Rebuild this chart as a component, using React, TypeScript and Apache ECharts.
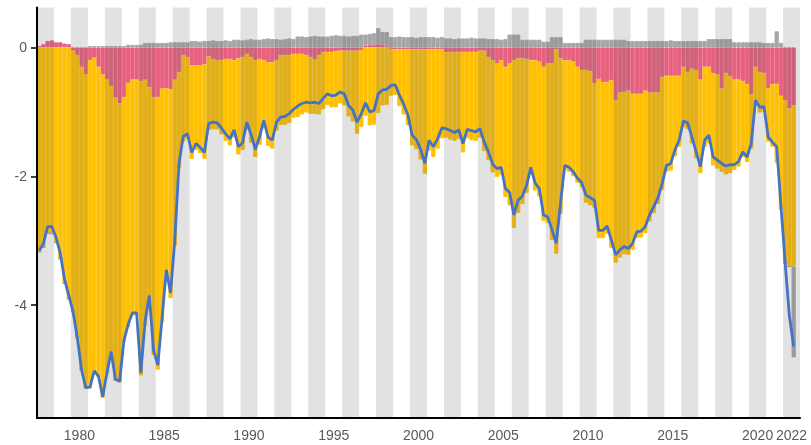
import { useEffect, useRef } from 'react';
import * as echarts from 'echarts';

// Calendar years on the horizontal axis (one shaded band per even year)
const years = [
  '1978', '1979', '1980', '1981', '1982', '1983', '1984', '1985', '1986', '1987',
  '1988', '1989', '1990', '1991', '1992', '1993', '1994', '1995', '1996', '1997',
  '1998', '1999', '2000', '2001', '2002', '2003', '2004', '2005', '2006', '2007',
  '2008', '2009', '2010', '2011', '2012', '2013', '2014', '2015', '2016', '2017',
  '2018', '2019', '2020', '2021', '2022',
];
const quarterNames = ['Q1', 'Q2', 'Q3', 'Q4'];
const yearTickLabels = ['1980', '1985', '1990', '1995', '2000', '2005', '2010', '2015', '2020', '2022'];
const valueTicks = [-4, -2, 0];

// Net balance (blue line), quarterly from 1978 Q1 to 2022 Q3
const netBalance = [
  -3.15, -3.05, -2.78, -2.78, -2.95, -3.20, -3.60, -3.85, -4.10, -4.50, -5.00, -5.28,
  -5.27, -5.02, -5.10, -5.42, -5.05, -4.72, -5.15, -5.18, -4.55, -4.30, -4.12, -4.12,
  -5.05, -4.25, -3.85, -4.70, -4.93, -4.20, -3.45, -3.81, -3.00, -1.80, -1.38, -1.34,
  -1.63, -1.49, -1.55, -1.63, -1.18, -1.16, -1.17, -1.25, -1.34, -1.42, -1.28, -1.54,
  -1.48, -1.16, -1.35, -1.58, -1.39, -1.13, -1.39, -1.44, -1.16, -1.08, -1.07, -1.03,
  -0.96, -0.91, -0.87, -0.85, -0.86, -0.85, -0.87, -0.79, -0.72, -0.75, -0.74, -0.69,
  -0.72, -0.90, -0.97, -1.16, -1.03, -0.86, -1.00, -0.98, -0.72, -0.66, -0.65, -0.59,
  -0.58, -0.74, -0.88, -1.05, -1.36, -1.43, -1.58, -1.80, -1.44, -1.54, -1.42, -1.25,
  -1.26, -1.29, -1.32, -1.28, -1.49, -1.27, -1.29, -1.31, -1.26, -1.47, -1.62, -1.81,
  -1.88, -1.86, -2.19, -2.25, -2.60, -2.37, -2.31, -2.14, -1.86, -2.10, -2.19, -2.60,
  -2.63, -2.83, -3.04, -2.42, -1.83, -1.86, -1.93, -2.03, -2.10, -2.29, -2.33, -2.37,
  -2.84, -2.84, -2.77, -2.99, -3.22, -3.14, -3.09, -3.12, -3.04, -2.86, -2.85, -2.78,
  -2.60, -2.47, -2.33, -2.11, -1.83, -1.80, -1.59, -1.44, -1.14, -1.17, -1.39, -1.62,
  -1.85, -1.44, -1.36, -1.70, -1.75, -1.80, -1.84, -1.82, -1.82, -1.77, -1.62, -1.70,
  -1.49, -0.82, -0.93, -0.92, -1.39, -1.47, -1.54, -2.45, -3.35, -4.17, -4.64,
];

// Pink component
const pinkPart = [
  0.02, 0.05, 0.10, 0.11, 0.08, 0.08, 0.06, 0.05, -0.05, -0.12, -0.30, -0.42,
  -0.20, -0.16, -0.30, -0.42, -0.50, -0.60, -0.78, -0.87, -0.77, -0.55, -0.50, -0.50,
  -0.52, -0.50, -0.62, -0.77, -0.77, -0.64, -0.63, -0.65, -0.50, -0.38, -0.12, -0.15,
  -0.28, -0.28, -0.28, -0.26, -0.14, -0.18, -0.20, -0.20, -0.18, -0.18, -0.20, -0.17,
  -0.15, -0.10, -0.15, -0.20, -0.18, -0.20, -0.23, -0.23, -0.20, -0.12, -0.12, -0.12,
  -0.10, -0.10, -0.10, -0.12, -0.15, -0.19, -0.12, -0.07, -0.07, -0.07, -0.06, -0.05,
  -0.05, -0.05, -0.05, -0.05, -0.04, 0.03, 0.04, 0.04, 0.05, 0.04, 0.02, -0.02,
  -0.03, -0.03, -0.03, -0.03, -0.03, -0.03, -0.03, -0.03, -0.03, -0.03, -0.03, -0.03,
  -0.07, -0.07, -0.07, -0.07, -0.07, -0.07, -0.07, -0.07, -0.05, -0.05, -0.15, -0.20,
  -0.25, -0.20, -0.30, -0.25, -0.20, -0.17, -0.17, -0.18, -0.20, -0.20, -0.22, -0.30,
  -0.25, -0.25, -0.03, -0.17, -0.20, -0.20, -0.22, -0.30, -0.35, -0.35, -0.37, -0.56,
  -0.49, -0.54, -0.54, -0.51, -0.82, -0.70, -0.69, -0.67, -0.72, -0.72, -0.72, -0.67,
  -0.70, -0.70, -0.70, -0.46, -0.44, -0.44, -0.44, -0.44, -0.30, -0.38, -0.33, -0.35,
  -0.50, -0.30, -0.30, -0.40, -0.42, -0.64, -0.40, -0.45, -0.50, -0.50, -0.52, -0.57,
  -0.73, -0.30, -0.38, -0.40, -0.63, -0.57, -0.57, -0.75, -0.82, -0.95, -0.90,
];

// Yellow component
const yellowPart = [
  -3.17, -3.10, -2.88, -2.89, -3.03, -3.28, -3.66, -3.90, -4.05, -4.38, -4.70, -4.86,
  -5.09, -4.88, -4.82, -5.02, -4.57, -4.14, -4.39, -4.33, -3.80, -3.79, -3.66, -3.66,
  -4.57, -3.82, -3.30, -4.00, -4.23, -3.63, -2.89, -3.24, -2.58, -1.50, -1.34, -1.27,
  -1.45, -1.31, -1.36, -1.47, -1.14, -1.09, -1.07, -1.15, -1.27, -1.34, -1.20, -1.49,
  -1.44, -1.18, -1.33, -1.50, -1.33, -1.06, -1.30, -1.34, -1.09, -1.08, -1.08, -1.05,
  -0.99, -0.98, -0.94, -0.89, -0.88, -0.84, -0.92, -0.89, -0.82, -0.86, -0.87, -0.82,
  -0.85, -1.02, -1.10, -1.29, -1.19, -1.06, -1.21, -1.20, -1.02, -0.90, -0.89, -0.73,
  -0.71, -0.88, -1.01, -1.18, -1.49, -1.55, -1.71, -1.93, -1.57, -1.67, -1.54, -1.38,
  -1.33, -1.36, -1.38, -1.35, -1.56, -1.34, -1.37, -1.38, -1.35, -1.56, -1.60, -1.74,
  -1.76, -1.78, -2.02, -2.20, -2.60, -2.40, -2.26, -2.08, -1.78, -2.02, -2.09, -2.39,
  -2.47, -2.74, -3.17, -2.41, -1.70, -1.73, -1.78, -1.80, -1.82, -2.06, -2.08, -1.93,
  -2.47, -2.42, -2.35, -2.60, -2.52, -2.56, -2.52, -2.55, -2.42, -2.24, -2.23, -2.21,
  -2.00, -1.87, -1.73, -1.75, -1.49, -1.47, -1.25, -1.10, -0.94, -0.89, -1.16, -1.37,
  -1.45, -1.24, -1.19, -1.43, -1.46, -1.29, -1.57, -1.50, -1.40, -1.35, -1.18, -1.21,
  -0.84, -0.60, -0.63, -0.59, -0.83, -0.97, -1.22, -1.77, -2.53, -2.45, -2.50,
];

// Grey component (mostly small and positive)
const greyPart = [
  0, 0, 0, 0, 0, 0, 0, 0, 0, 0, 0, 0,
  0.02, 0.02, 0.02, 0.02, 0.02, 0.02, 0.02, 0.02, 0.02, 0.04, 0.04, 0.04,
  0.04, 0.07, 0.07, 0.07, 0.07, 0.07, 0.07, 0.08, 0.08, 0.08, 0.08, 0.08,
  0.10, 0.10, 0.09, 0.10, 0.10, 0.11, 0.10, 0.10, 0.11, 0.10, 0.12, 0.12,
  0.11, 0.12, 0.13, 0.12, 0.12, 0.13, 0.14, 0.13, 0.13, 0.12, 0.13, 0.14,
  0.13, 0.17, 0.17, 0.16, 0.17, 0.18, 0.17, 0.17, 0.17, 0.18, 0.19, 0.18,
  0.18, 0.17, 0.18, 0.18, 0.20, 0.17, 0.17, 0.18, 0.25, 0.20, 0.22, 0.16,
  0.16, 0.17, 0.16, 0.16, 0.16, 0.15, 0.16, 0.16, 0.16, 0.16, 0.15, 0.16,
  0.14, 0.14, 0.13, 0.14, 0.14, 0.14, 0.15, 0.14, 0.14, 0.14, 0.13, 0.13,
  0.13, 0.12, 0.13, 0.20, 0.20, 0.20, 0.12, 0.12, 0.12, 0.12, 0.12, 0.09,
  0.09, 0.16, 0.16, 0.16, 0.07, 0.07, 0.07, 0.07, 0.07, 0.12, 0.12, 0.12,
  0.12, 0.12, 0.12, 0.12, 0.12, 0.12, 0.12, 0.10, 0.10, 0.10, 0.10, 0.10,
  0.10, 0.10, 0.10, 0.10, 0.10, 0.11, 0.10, 0.10, 0.10, 0.10, 0.10, 0.10,
  0.10, 0.10, 0.13, 0.13, 0.13, 0.13, 0.13, 0.13, 0.08, 0.08, 0.08, 0.08,
  0.08, 0.08, 0.08, 0.07, 0.07, 0.07, 0.25, 0.07, 0, 0, -1.41,
];

const FONT = '"Liberation Sans", Arial, sans-serif';
const LABEL_COLOR = '#595959';

export default function App() {
  const ref = useRef<HTMLDivElement>(null);

  useEffect(() => {
    if (!ref.current) return;
    const chart = echarts.init(ref.current, undefined, { renderer: 'svg' });

    const quarters = years.flatMap((y) => quarterNames.map((q) => `${y} ${q}`));
    const bands = years.map((y) => (Number(y) % 2 === 0 ? 1 : '-'));

    // Adjacent quarterly bars share edges; a thin same-colour border hides seams
    const barSeries = (name: string, data: number[], color: string) => ({
      name,
      type: 'bar',
      stack: 'parts',
      data,
      barWidth: '100%',
      barCategoryGap: '0%',
      itemStyle: { color, borderColor: color, borderWidth: 0.9 },
      z: 2,
    });

    chart.setOption({
      animation: false,
      grid: { left: 37, right: 11, top: 7.5, bottom: 27, containLabel: false },
      xAxis: [
        {
          type: 'category',
          data: quarters,
          boundaryGap: true,
          z: 10,
          axisLine: { onZero: false, lineStyle: { color: '#000', width: 2 } },
          axisTick: { show: false },
          axisLabel: { show: false },
          splitLine: { show: false },
        },
        {
          type: 'category',
          data: years,
          position: 'bottom',
          boundaryGap: true,
          axisLine: { show: false },
          axisTick: { show: false },
          splitLine: { show: false },
          axisLabel: {
            interval: (_i: number, v: string) => yearTickLabels.includes(v),
            color: LABEL_COLOR,
            fontSize: 14,
            fontFamily: FONT,
            margin: 10,
          },
        },
      ],
      yAxis: [
        {
          type: 'value',
          min: -5.75,
          max: 0.62,
          z: 10,
          axisLine: { show: true, lineStyle: { color: '#000', width: 2 } },
          axisTick: { show: true, length: 6, customValues: valueTicks, lineStyle: { color: '#000', width: 1.5 } },
          axisLabel: { customValues: valueTicks, color: LABEL_COLOR, fontSize: 14, fontFamily: FONT, margin: 10 },
          splitLine: { show: false },
        },
        { type: 'value', min: 0, max: 1, show: false },
      ],
      series: [
        barSeries('pink', pinkPart, '#E8607E'),
        barSeries('yellow', yellowPart, '#FFC000'),
        barSeries('grey', greyPart, '#A6A6A6'),
        {
          name: 'bands',
          type: 'bar',
          xAxisIndex: 1,
          yAxisIndex: 1,
          data: bands,
          barWidth: '100%',
          silent: true,
          itemStyle: { color: 'rgba(110,110,110,0.2)' },
          z: 3,
        },
        {
          name: 'net',
          type: 'line',
          data: netBalance,
          symbol: 'none',
          lineStyle: { color: '#4472C4', width: 2.8 },
          z: 5,
        },
      ],
    });

    return () => chart.dispose();
  }, []);

  return <div ref={ref} style={{ position: 'fixed', left: 0, top: 0, width: 811, height: 445 }} />;
}
